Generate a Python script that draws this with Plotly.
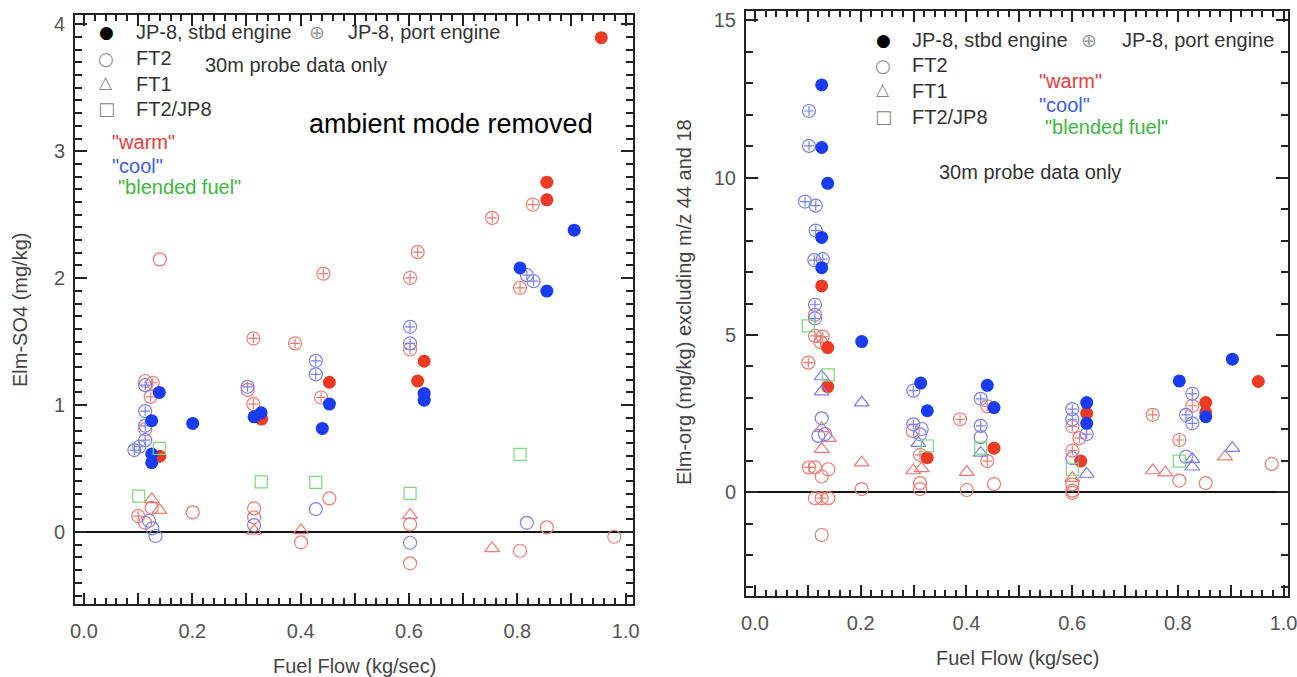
import plotly.graph_objects as go

W, H = 1297, 677

# ---------------- Elm-SO4 panel (left) ----------------
so4_stbd_warm_x = [0.140, 0.328, 0.453, 0.616, 0.628, 0.8545, 0.8545, 0.955]
so4_stbd_warm_y = [0.598, 0.890, 1.180, 1.190, 1.346, 2.617, 2.756, 3.894]
so4_stbd_cool_x = [0.139, 0.125, 0.125, 0.125, 0.2007, 0.314, 0.327, 0.453, 0.440, 0.628, 0.628, 0.805, 0.8545, 0.905]
so4_stbd_cool_y = [1.100, 0.877, 0.614, 0.546, 0.856, 0.908, 0.940, 1.008, 0.816, 1.092, 1.039, 2.081, 1.898, 2.378]
so4_port_warm_x = [0.127, 0.123, 0.100, 0.3127, 0.3127, 0.3897, 0.4377, 0.442, 0.616, 0.602, 0.602, 0.7535, 0.8286, 0.805]
so4_port_warm_y = [1.176, 1.065, 0.126, 1.525, 1.008, 1.486, 1.060, 2.035, 2.205, 2.003, 1.438, 2.475, 2.580, 1.924]
so4_port_cool_x = [0.113, 0.113, 0.113, 0.113, 0.102, 0.093, 0.302, 0.428, 0.428, 0.602, 0.602, 0.8175, 0.830]
so4_port_cool_y = [1.157, 0.953, 0.837, 0.724, 0.672, 0.646, 1.144, 1.349, 1.242, 1.617, 1.486, 2.024, 1.976]
so4_ft2_warm_x = [0.113, 0.113, 0.140, 0.302, 0.125, 0.2007, 0.113, 0.314, 0.314, 0.4007, 0.453, 0.602, 0.602, 0.805, 0.8545, 0.979]
so4_ft2_warm_y = [1.190, 0.810, 2.148, 1.120, 0.191, 0.155, 0.073, 0.186, 0.116, -0.081, 0.265, 0.060, -0.246, -0.147, 0.037, -0.037]
so4_ft2_cool_x = [0.120, 0.126, 0.132, 0.314, 0.428, 0.602, 0.8175]
so4_ft2_cool_y = [0.089, 0.029, -0.031, 0.055, 0.181, -0.084, 0.073]
so4_ft1_warm_x = [0.125, 0.139, 0.314, 0.4007, 0.602, 0.7535]
so4_ft1_warm_y = [0.257, 0.173, 0.010, 0.013, 0.134, -0.129]
so4_blend_x = [0.101, 0.139, 0.327, 0.428, 0.602, 0.805]
so4_blend_y = [0.283, 0.659, 0.396, 0.391, 0.305, 0.612]

# ---------------- Elm-org panel (right) ----------------
org_stbd_warm_x = [0.1262, 0.1376, 0.1376, 0.326, 0.4522, 0.6276, 0.6163, 0.8528, 0.8528, 0.9523]
org_stbd_warm_y = [6.56, 4.60, 3.36, 1.10, 1.40, 2.51, 0.99, 2.85, 2.53, 3.52]
org_stbd_cool_x = [0.1262, 0.1262, 0.1376, 0.1262, 0.1262, 0.2019, 0.3135, 0.326, 0.4395, 0.4522, 0.6276, 0.6276, 0.8028, 0.8528, 0.9031]
org_stbd_cool_y = [12.95, 10.96, 9.82, 8.10, 7.14, 4.79, 3.47, 2.59, 3.40, 2.69, 2.85, 2.19, 3.54, 2.40, 4.23]
org_port_cool_x = [0.1022, 0.1022, 0.0946, 0.1149, 0.1149, 0.1122, 0.1281, 0.1135, 0.1135, 0.2995, 0.2995, 0.4271, 0.4271, 0.6004, 0.6004, 0.6276, 0.8274, 0.8155, 0.8274]
org_port_cool_y = [12.12, 11.01, 9.24, 9.11, 8.32, 7.38, 7.41, 5.96, 5.53, 3.23, 2.16, 2.97, 2.11, 2.64, 2.32, 1.85, 3.13, 2.46, 2.19]
org_port_warm_x = [0.1135, 0.1281, 0.1243, 0.1009, 0.1022, 0.1262, 0.3122, 0.3879, 0.4395, 0.4395, 0.6004, 0.6136, 0.6004, 0.7525, 0.8274, 0.8028]
org_port_warm_y = [4.97, 4.95, 4.77, 4.12, 0.79, -0.19, 1.19, 2.32, 2.73, 0.99, 2.09, 1.72, 1.32, 2.46, 2.75, 1.66]
org_ft2_warm_x = [0.1135, 0.1135, 0.1387, 0.1262, 0.2019, 0.1135, 0.1387, 0.1262, 0.2984, 0.3122, 0.3122, 0.4006, 0.4522, 0.6004, 0.6004, 0.6004, 0.8028, 0.8528, 0.9777]
org_ft2_warm_y = [5.64, 0.79, 0.73, 0.50, 0.10, -0.19, -0.19, -1.36, 1.95, 0.29, 0.10, 0.07, 0.26, 0.25, 0.05, -0.02, 0.37, 0.29, 0.90]
org_ft2_cool_x = [0.1262, 0.1198, 0.1325, 0.3154, 0.3122, 0.4271, 0.6004, 0.8155]
org_ft2_cool_y = [2.35, 1.79, 1.85, 2.01, 1.84, 1.75, 1.08, 1.13]
org_ft1_warm_x = [0.1262, 0.1400, 0.1262, 0.2019, 0.2995, 0.3154, 0.4006, 0.6004, 0.7525, 0.7763, 0.8893]
org_ft1_warm_y = [2.03, 1.72, 1.37, 0.94, 0.69, 0.76, 0.64, 0.45, 0.69, 0.62, 1.13]
org_ft1_cool_x = [0.1262, 0.1262, 0.2019, 0.3090, 0.4271, 0.6276, 0.8274, 0.8274, 0.9031]
org_ft1_cool_y = [3.68, 3.20, 2.85, 1.56, 1.25, 0.58, 1.05, 0.81, 1.40]
org_blend_x = [0.1009, 0.1387, 0.326, 0.4271, 0.6004, 0.8028]
org_blend_y = [5.29, 3.73, 1.47, 1.40, 0.73, 0.99]

x_tick_vals = [0.0, 0.1, 0.2, 0.3, 0.4, 0.5, 0.6, 0.7, 0.8, 0.9, 1.0]
x_tick_text = ["0.0", "", "0.2", "", "0.4", "", "0.6", "", "0.8", "", "1.0"]

RED = "#ee3a22"
BLUE = "#1a3cf0"
RED_OPEN = "#f07a72"
BLUE_OPEN = "#7a80f2"
GREEN_OPEN = "#7ada7a"
FONT = "Liberation Sans"

fig = go.Figure()


def add_filled(x, y, color, ax):
    fig.add_trace(go.Scatter(x=x, y=y, mode="markers", xaxis="x" + ax, yaxis="y" + ax,
                             marker=dict(symbol="circle", size=13, color=color,
                                         line=dict(width=0)),
                             showlegend=False, hoverinfo="skip"))


def add_open(x, y, color, symbol, size, ax):
    fig.add_trace(go.Scatter(x=x, y=y, mode="markers", xaxis="x" + ax, yaxis="y" + ax,
                             marker=dict(symbol=symbol, size=size, color=color,
                                         line=dict(width=1.2, color=color)),
                             showlegend=False, hoverinfo="skip"))


def add_port(x, y, color, ax):
    add_open(x, y, color, "circle-open", 13, ax)
    add_open(x, y, color, "cross-thin-open", 7, ax)


for ax, d in [("", dict(ft2w=(so4_ft2_warm_x, so4_ft2_warm_y), ft1w=(so4_ft1_warm_x, so4_ft1_warm_y),
                        pw=(so4_port_warm_x, so4_port_warm_y), sw=(so4_stbd_warm_x, so4_stbd_warm_y),
                        ft2c=(so4_ft2_cool_x, so4_ft2_cool_y), ft1c=([], []),
                        pc=(so4_port_cool_x, so4_port_cool_y), sc=(so4_stbd_cool_x, so4_stbd_cool_y),
                        bl=(so4_blend_x, so4_blend_y))),
              ("2", dict(ft2w=(org_ft2_warm_x, org_ft2_warm_y), ft1w=(org_ft1_warm_x, org_ft1_warm_y),
                         pw=(org_port_warm_x, org_port_warm_y), sw=(org_stbd_warm_x, org_stbd_warm_y),
                         ft2c=(org_ft2_cool_x, org_ft2_cool_y), ft1c=(org_ft1_cool_x, org_ft1_cool_y),
                         pc=(org_port_cool_x, org_port_cool_y), sc=(org_stbd_cool_x, org_stbd_cool_y),
                         bl=(org_blend_x, org_blend_y)))]:
    add_open(*d["ft2w"], RED_OPEN, "circle-open", 13, ax)
    add_open(*d["ft1w"], RED_OPEN, "triangle-up-open", 13, ax)
    add_port(*d["pw"], RED_OPEN, ax)
    add_filled(*d["sw"], RED, ax)
    add_open(*d["ft2c"], BLUE_OPEN, "circle-open", 13, ax)
    add_open(*d["ft1c"], BLUE_OPEN, "triangle-up-open", 13, ax)
    add_port(*d["pc"], BLUE_OPEN, ax)
    add_filled(*d["sc"], BLUE, ax)
    add_open(*d["bl"], GREEN_OPEN, "square-open", 12, ax)

tickfont = dict(family=FONT, size=20, color="#555555")
common_x = dict(tickmode="array", tickvals=x_tick_vals, ticktext=x_tick_text,
                ticks="inside", ticklen=11, tickwidth=2, tickcolor="#222",
                minor=dict(dtick=0.02, ticks="inside", ticklen=6, tickwidth=1.5, tickcolor="#222"),
                showline=True, linecolor="#222", linewidth=2, mirror="allticks",
                showgrid=False, zeroline=False, tickfont=tickfont, automargin=False,
                ticklabelstandoff=8, ticklabeloverflow="allow")
common_y = dict(ticks="inside", ticklen=12, tickwidth=2, tickcolor="#222",
                showline=True, linecolor="#222", linewidth=2, mirror="allticks",
                showgrid=False, zeroline=True, zerolinecolor="#111", zerolinewidth=2,
                tickfont=tickfont, automargin=False, ticklabelstandoff=4,
                ticklabeloverflow="allow")

fig.update_layout(
    width=W, height=H, autosize=False,
    margin=dict(l=0, r=0, t=0, b=0),
    paper_bgcolor="white", plot_bgcolor="white",
    hovermode=False,
    xaxis=dict(domain=[75 / W, 632.7 / W], range=[-0.0166, 1.013], anchor="y", **common_x),
    yaxis=dict(domain=[1 - 604.3 / H, 1 - 15 / H], range=[-0.569, 4.073], anchor="x",
               tickmode="linear", tick0=0, dtick=1,
               minor=dict(dtick=0.1, ticks="inside", ticklen=7, tickwidth=1.5, tickcolor="#222"),
               **common_y),
    xaxis2=dict(domain=[746 / W, 1288.3 / W], range=[-0.017, 1.009], anchor="y2", **common_x),
    yaxis2=dict(domain=[1 - 595.7 / H, 1 - 11 / H], range=[-3.29, 15.30], anchor="x2",
                tickmode="linear", tick0=0, dtick=5,
                minor=dict(dtick=1, ticks="inside", ticklen=7, tickwidth=1.5, tickcolor="#222"),
                **common_y),
)


def label(px, py, text, size=20, color="#333333", xanchor="left", angle=0, family=FONT):
    fig.add_annotation(x=px / W, y=1 - py / H, xref="paper", yref="paper", text=text,
                       showarrow=False, xanchor=xanchor, yanchor="middle", textangle=angle,
                       font=dict(family=family, size=size, color=color))


SYM = "DejaVu Sans"
# axis titles
label(20, 310, "Elm-SO4 (mg/kg)", color="#444444", xanchor="center", angle=-90)
label(354, 666, "Fuel Flow (kg/sec)", color="#444444", xanchor="center")
label(684, 302, "Elm-org (mg/kg) excluding m/z 44 and 18", color="#444444", xanchor="center", angle=-90)
label(1017, 658, "Fuel Flow (kg/sec)", color="#444444", xanchor="center")

# key, left panel
label(106, 32, "●", size=17, color="#000000", xanchor="center", family=SYM)
label(134, 32, "JP-8, stbd engine")
label(317, 32, "⊕", size=19, color="#999999", xanchor="center", family=SYM)
label(346, 32, "JP-8, port engine")
label(106, 58, "○", size=18, color="#888888", xanchor="center", family=SYM)
label(134, 58, "FT2")
label(106, 82, "△", size=17, color="#888888", xanchor="center", family=SYM)
label(134, 84, "FT1")
label(106, 109, "□", size=18, color="#888888", xanchor="center", family=SYM)
label(134, 109, "FT2/JP8")
label(203, 65, "30m probe data only")
label(307, 124, "ambient mode removed", size=27, color="#000000")
label(110, 142, "\"warm\"", color="#ee3a3a")
label(110, 166, "\"cool\"", color="#3a5ef0")
label(116, 187, "\"blended fuel\"", color="#3cb83c")

# key, right panel
label(883, 40, "●", size=17, color="#000000", xanchor="center", family=SYM)
label(910, 40, "JP-8, stbd engine")
label(1089, 40, "⊕", size=19, color="#999999", xanchor="center", family=SYM)
label(1120, 40, "JP-8, port engine")
label(883, 65, "○", size=18, color="#888888", xanchor="center", family=SYM)
label(910, 65, "FT2")
label(883, 89, "△", size=17, color="#888888", xanchor="center", family=SYM)
label(910, 91, "FT1")
label(883, 117, "□", size=18, color="#888888", xanchor="center", family=SYM)
label(910, 117, "FT2/JP8")
label(1037, 81, "\"warm\"", color="#ee3a3a")
label(1037, 105, "\"cool\"", color="#3a5ef0")
label(1043, 127, "\"blended fuel\"", color="#3cb83c")
label(937, 172, "30m probe data only")

fig.write_html("out.html")
